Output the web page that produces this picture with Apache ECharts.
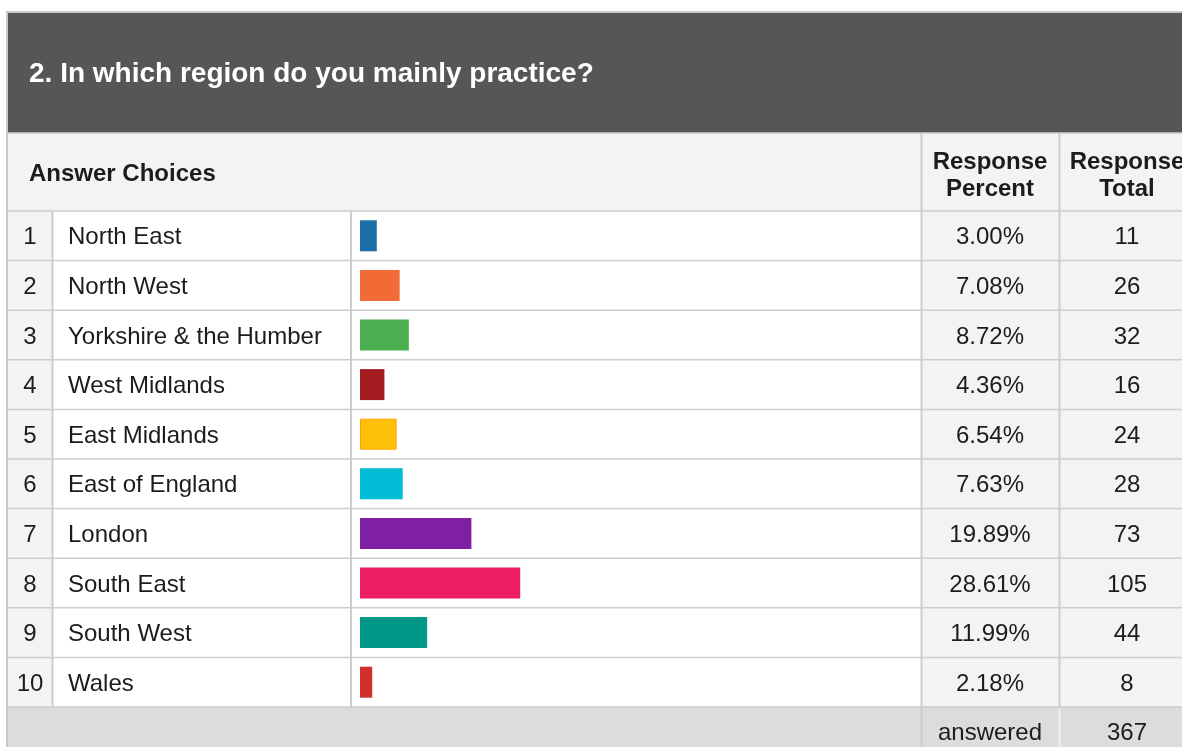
<!DOCTYPE html>
<html>
<head>
<meta charset="utf-8">
<script src="https://cdn.jsdelivr.net/npm/echarts@6/dist/echarts.min.js"></script>
<style>
  html, body { margin: 0; padding: 0; background: #ffffff; }
  #chart { width: 1182px; height: 747px; }
</style>
</head>
<body>
<div id="chart"></div>
<script>
// Survey question and its answers
const questionTitle = '2. In which region do you mainly practice?';
const rowNumbers = ['1', '2', '3', '4', '5', '6', '7', '8', '9', '10'];
const regions = [
  'North East', 'North West', 'Yorkshire & the Humber', 'West Midlands',
  'East Midlands', 'East of England', 'London', 'South East', 'South West', 'Wales'
];
const responsePercent = [3.00, 7.08, 8.72, 4.36, 6.54, 7.63, 19.89, 28.61, 11.99, 2.18];
const responseTotal = [11, 26, 32, 16, 24, 28, 73, 105, 44, 8];

// One colour per answer bar
const barColors = [
  '#1b6ea7', '#f26a35', '#4caf50', '#a31c20', '#ffc107',
  '#00bcd4', '#7f1fa3', '#eb1e63', '#009688', '#d32f2f'
];
const barBorders = [null, null, null, null, '#ffa000', null, null, null, null, null];

// Table geometry
const FONT = '"Liberation Sans", Arial, Helvetica, sans-serif';
const W = 1182, H = 747;
const TABLE_LEFT = 8;
const HEAD_TOP = 12, HEAD_BOTTOM = 133;
const ROWS_TOP = 211, ROWS_BOTTOM = 707;
const COL_NUM = 52.5, COL_NAME = 351, COL_BAR = 921.5, COL_PCT = 1059.5;
const ROW_H = (ROWS_BOTTOM - ROWS_TOP) / regions.length;
const BAR_LEFT = 360, BAR_RIGHT = 920;
const PCT_CENTER = 990, TOTAL_CENTER = 1127, NUM_CENTER = 30, NAME_LEFT = 68;
const TEXT_NUDGE = 2; // row text sits a little below the row centre

const LINE = '#cdcdcd';
const LIGHT = '#f3f3f2';
const TEXT = '#1c1c1c';

const answeredTotal = responseTotal.reduce((a, b) => a + b, 0);

const graphics = [];
function rect(x, y, w, h, fill, z) {
  graphics.push({ type: 'rect', z: z, silent: true, shape: { x: x, y: y, width: w, height: h }, style: { fill: fill } });
}
function line(x1, y1, x2, y2, stroke, width, z) {
  graphics.push({ type: 'line', z: z, silent: true, shape: { x1: x1, y1: y1, x2: x2, y2: y2 }, style: { stroke: stroke, lineWidth: width } });
}
function text(str, x, y, size, weight, align, color, lh) {
  graphics.push({
    type: 'text', z: 10, silent: true, x: x, y: y,
    style: {
      text: str, fill: color, font: weight + ' ' + size + 'px ' + FONT,
      textAlign: align, textVerticalAlign: 'middle', lineHeight: lh || size
    }
  });
}

// backgrounds
rect(TABLE_LEFT, HEAD_TOP, W - TABLE_LEFT, HEAD_BOTTOM - HEAD_TOP, '#555756', -20);
rect(TABLE_LEFT, HEAD_BOTTOM, W - TABLE_LEFT, ROWS_TOP - HEAD_BOTTOM, LIGHT, -20);
rect(TABLE_LEFT, ROWS_TOP, COL_NUM - TABLE_LEFT, ROWS_BOTTOM - ROWS_TOP, LIGHT, -20);
rect(COL_BAR, ROWS_TOP, W - COL_BAR, ROWS_BOTTOM - ROWS_TOP, LIGHT, -20);
rect(TABLE_LEFT, ROWS_BOTTOM, W - TABLE_LEFT, H - ROWS_BOTTOM, '#dcdcdc', -20);

// outer border
line(7, 12, W, 12, '#c8c8c8', 2, -10);
line(7, 11, 7, H, '#c8c8c8', 2, -10);

// horizontal rules
line(TABLE_LEFT, HEAD_BOTTOM, W, HEAD_BOTTOM, LINE, 1.5, -10);
for (let i = 0; i <= regions.length; i++) {
  const y = ROWS_TOP + i * ROW_H;
  line(TABLE_LEFT, y, W, y, LINE, 1.5, -10);
}

// vertical rules
line(COL_NUM, ROWS_TOP, COL_NUM, ROWS_BOTTOM, LINE, 2, -10);
line(COL_NAME, ROWS_TOP, COL_NAME, ROWS_BOTTOM, LINE, 2, -10);
line(COL_BAR, HEAD_BOTTOM, COL_BAR, H, LINE, 2, -10);
line(COL_PCT, HEAD_BOTTOM, COL_PCT, ROWS_BOTTOM, LINE, 2, -10);
line(COL_PCT, ROWS_BOTTOM + 2, COL_PCT, H, '#f4f4f4', 1.5, -10);

// headings
text(questionTitle, 29, (HEAD_TOP + HEAD_BOTTOM) / 2 + 2, 28, 'bold', 'left', '#ffffff');
text('Answer Choices', 29, 174, 24, 'bold', 'left', TEXT);
text('Response\nPercent', PCT_CENTER, 176, 24, 'bold', 'center', TEXT, 27);
text('Response\nTotal', TOTAL_CENTER, 176, 24, 'bold', 'center', TEXT, 27);

// footer
text('answered', PCT_CENTER, ROWS_BOTTOM + ROW_H / 2 + TEXT_NUDGE, 24, 'normal', 'center', TEXT);
text(String(answeredTotal), TOTAL_CENTER, ROWS_BOTTOM + ROW_H / 2 + TEXT_NUDGE, 24, 'normal', 'center', TEXT);

const labelFont = { fontFamily: FONT, fontSize: 24, color: TEXT };

function categoryAxis(data, gridIndex, position, margin, align, showLabel) {
  return {
    type: 'category',
    gridIndex: gridIndex,
    data: data,
    inverse: true,
    position: position,
    axisLine: { show: false },
    axisTick: { show: false },
    splitLine: { show: false },
    axisLabel: Object.assign({ show: showLabel, interval: 0, margin: margin, align: align }, labelFont)
  };
}

const chart = echarts.init(document.getElementById('chart'), null, { renderer: 'canvas' });
chart.setOption({
  backgroundColor: '#ffffff',
  animation: false,
  graphic: { elements: graphics },
  grid: [
    // bar column
    {
      left: BAR_LEFT, right: W - BAR_RIGHT,
      top: ROWS_TOP, bottom: H - ROWS_BOTTOM,
      containLabel: false, outerBoundsMode: 'none'
    },
    // text columns, same rows nudged down a touch
    {
      left: BAR_LEFT, right: W - BAR_RIGHT,
      top: ROWS_TOP + TEXT_NUDGE, bottom: H - ROWS_BOTTOM - TEXT_NUDGE,
      containLabel: false, outerBoundsMode: 'none'
    }
  ],
  xAxis: [
    { type: 'value', gridIndex: 0, min: 0, max: 100, show: false },
    { type: 'value', gridIndex: 1, min: 0, max: 100, show: false }
  ],
  yAxis: [
    categoryAxis(regions, 0, 'left', 0, 'left', false),
    categoryAxis(regions, 1, 'left', BAR_LEFT - NAME_LEFT, 'left', true),
    categoryAxis(rowNumbers, 1, 'left', BAR_LEFT - NUM_CENTER, 'center', true),
    categoryAxis(responsePercent.map(v => v.toFixed(2) + '%'), 1, 'right', PCT_CENTER - BAR_RIGHT, 'center', true),
    categoryAxis(responseTotal.map(String), 1, 'right', TOTAL_CENTER - BAR_RIGHT, 'center', true)
  ],
  series: [{
    type: 'bar',
    xAxisIndex: 0,
    yAxisIndex: 0,
    barWidth: 31,
    data: responsePercent.map((v, i) => ({
      value: v,
      itemStyle: barBorders[i]
        ? { color: barColors[i], borderColor: barBorders[i], borderWidth: 1 }
        : { color: barColors[i] }
    })),
    label: { show: false }
  }]
});
</script>
</body>
</html>
